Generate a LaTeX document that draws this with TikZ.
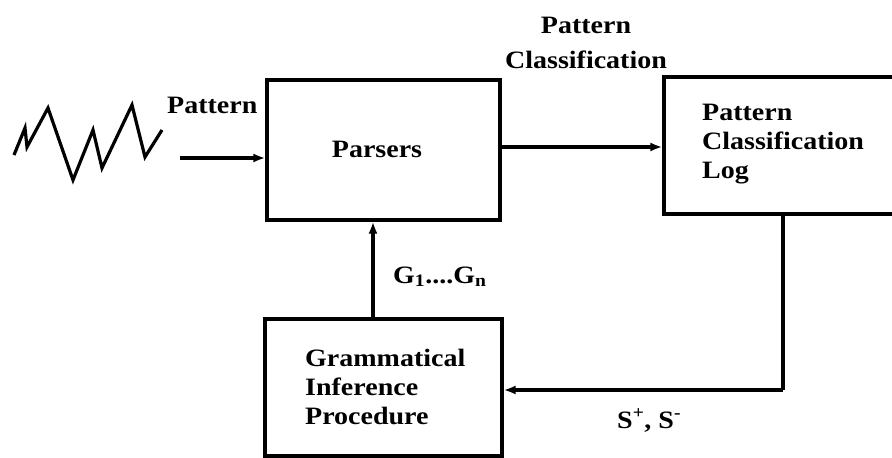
\documentclass[tikz,border=0pt]{standalone}
\usepackage{fontspec}
\setmainfont{Liberation Serif}[FakeStretch=1.12]
\usetikzlibrary{arrows.meta}
\begin{document}
\begin{tikzpicture}[x=1pt,y=-1pt,
  blk/.style={draw,line width=3.2pt,rectangle,inner sep=0pt},
  txt/.style={font=\bfseries\fontsize{25}{29}\selectfont,inner sep=0pt,align=left},
  conn/.style={line width=3.2pt,-{Latex[length=12pt,width=9pt]}},
  plain/.style={line width=3.2pt}]
\clip (0,0) rectangle (892,458);
\useasboundingbox (0,0) rectangle (892,458);
% boxes
\node[blk,minimum width=233pt,minimum height=140pt] (parsers) at (383.5,150) {};
\node[blk,minimum width=250pt,minimum height=137pt] (log) at (789,145.5) {};
\node[blk,minimum width=237pt,minimum height=137pt] (gram) at (383.5,387.5) {};
% texts (base anchor = last line)
\node[txt,anchor=base] (partxt) at (377,157) {Parsers};
\node[txt,anchor=base west] (logtxt) at (702,178) {Pattern\\Classification\\Log};
\node[txt,anchor=base west] (gramtxt) at (305,424) {Grammatical\\Inference\\Procedure};
\node[txt,anchor=base west] (inlbl) at (167,113) {Pattern};
\node[txt,anchor=base,align=center,font=\bfseries\fontsize{25}{35}\selectfont] (pclbl) at (586,68) {Pattern\\Classification};
\node[txt,anchor=base west] (glbl) at (393,283) {G\textsubscript{1}....G\textsubscript{n}};
\node[txt,anchor=base west] (slbl) at (617,428) {S\textsuperscript{+}, S\textsuperscript{-}};
% zigzag signal
\draw[line width=3.2pt,line join=miter] (14,155) coordinate (z0) -- (25,128) -- (27,147) -- (48,108) -- (73,180) -- (93,130) -- (102,168) -- (132,105) -- (145,157) -- (162,130);
% connectors
\coordinate (instart) at (180,158);
\draw[conn] (instart) -- (instart -| parsers.west);
\coordinate (pout) at (500,147);
\draw[conn] (pout) -- (pout -| log.west);
\coordinate (gtop) at (373,319);
\draw[conn] (gtop) -- (gtop |- parsers.south);
\coordinate (lbot) at (783,214);
\coordinate (corner) at (783,390);
\draw[plain] (lbot) -- (corner);
\draw[conn] (corner) -- (corner -| gram.east);
\end{tikzpicture}
\end{document}
